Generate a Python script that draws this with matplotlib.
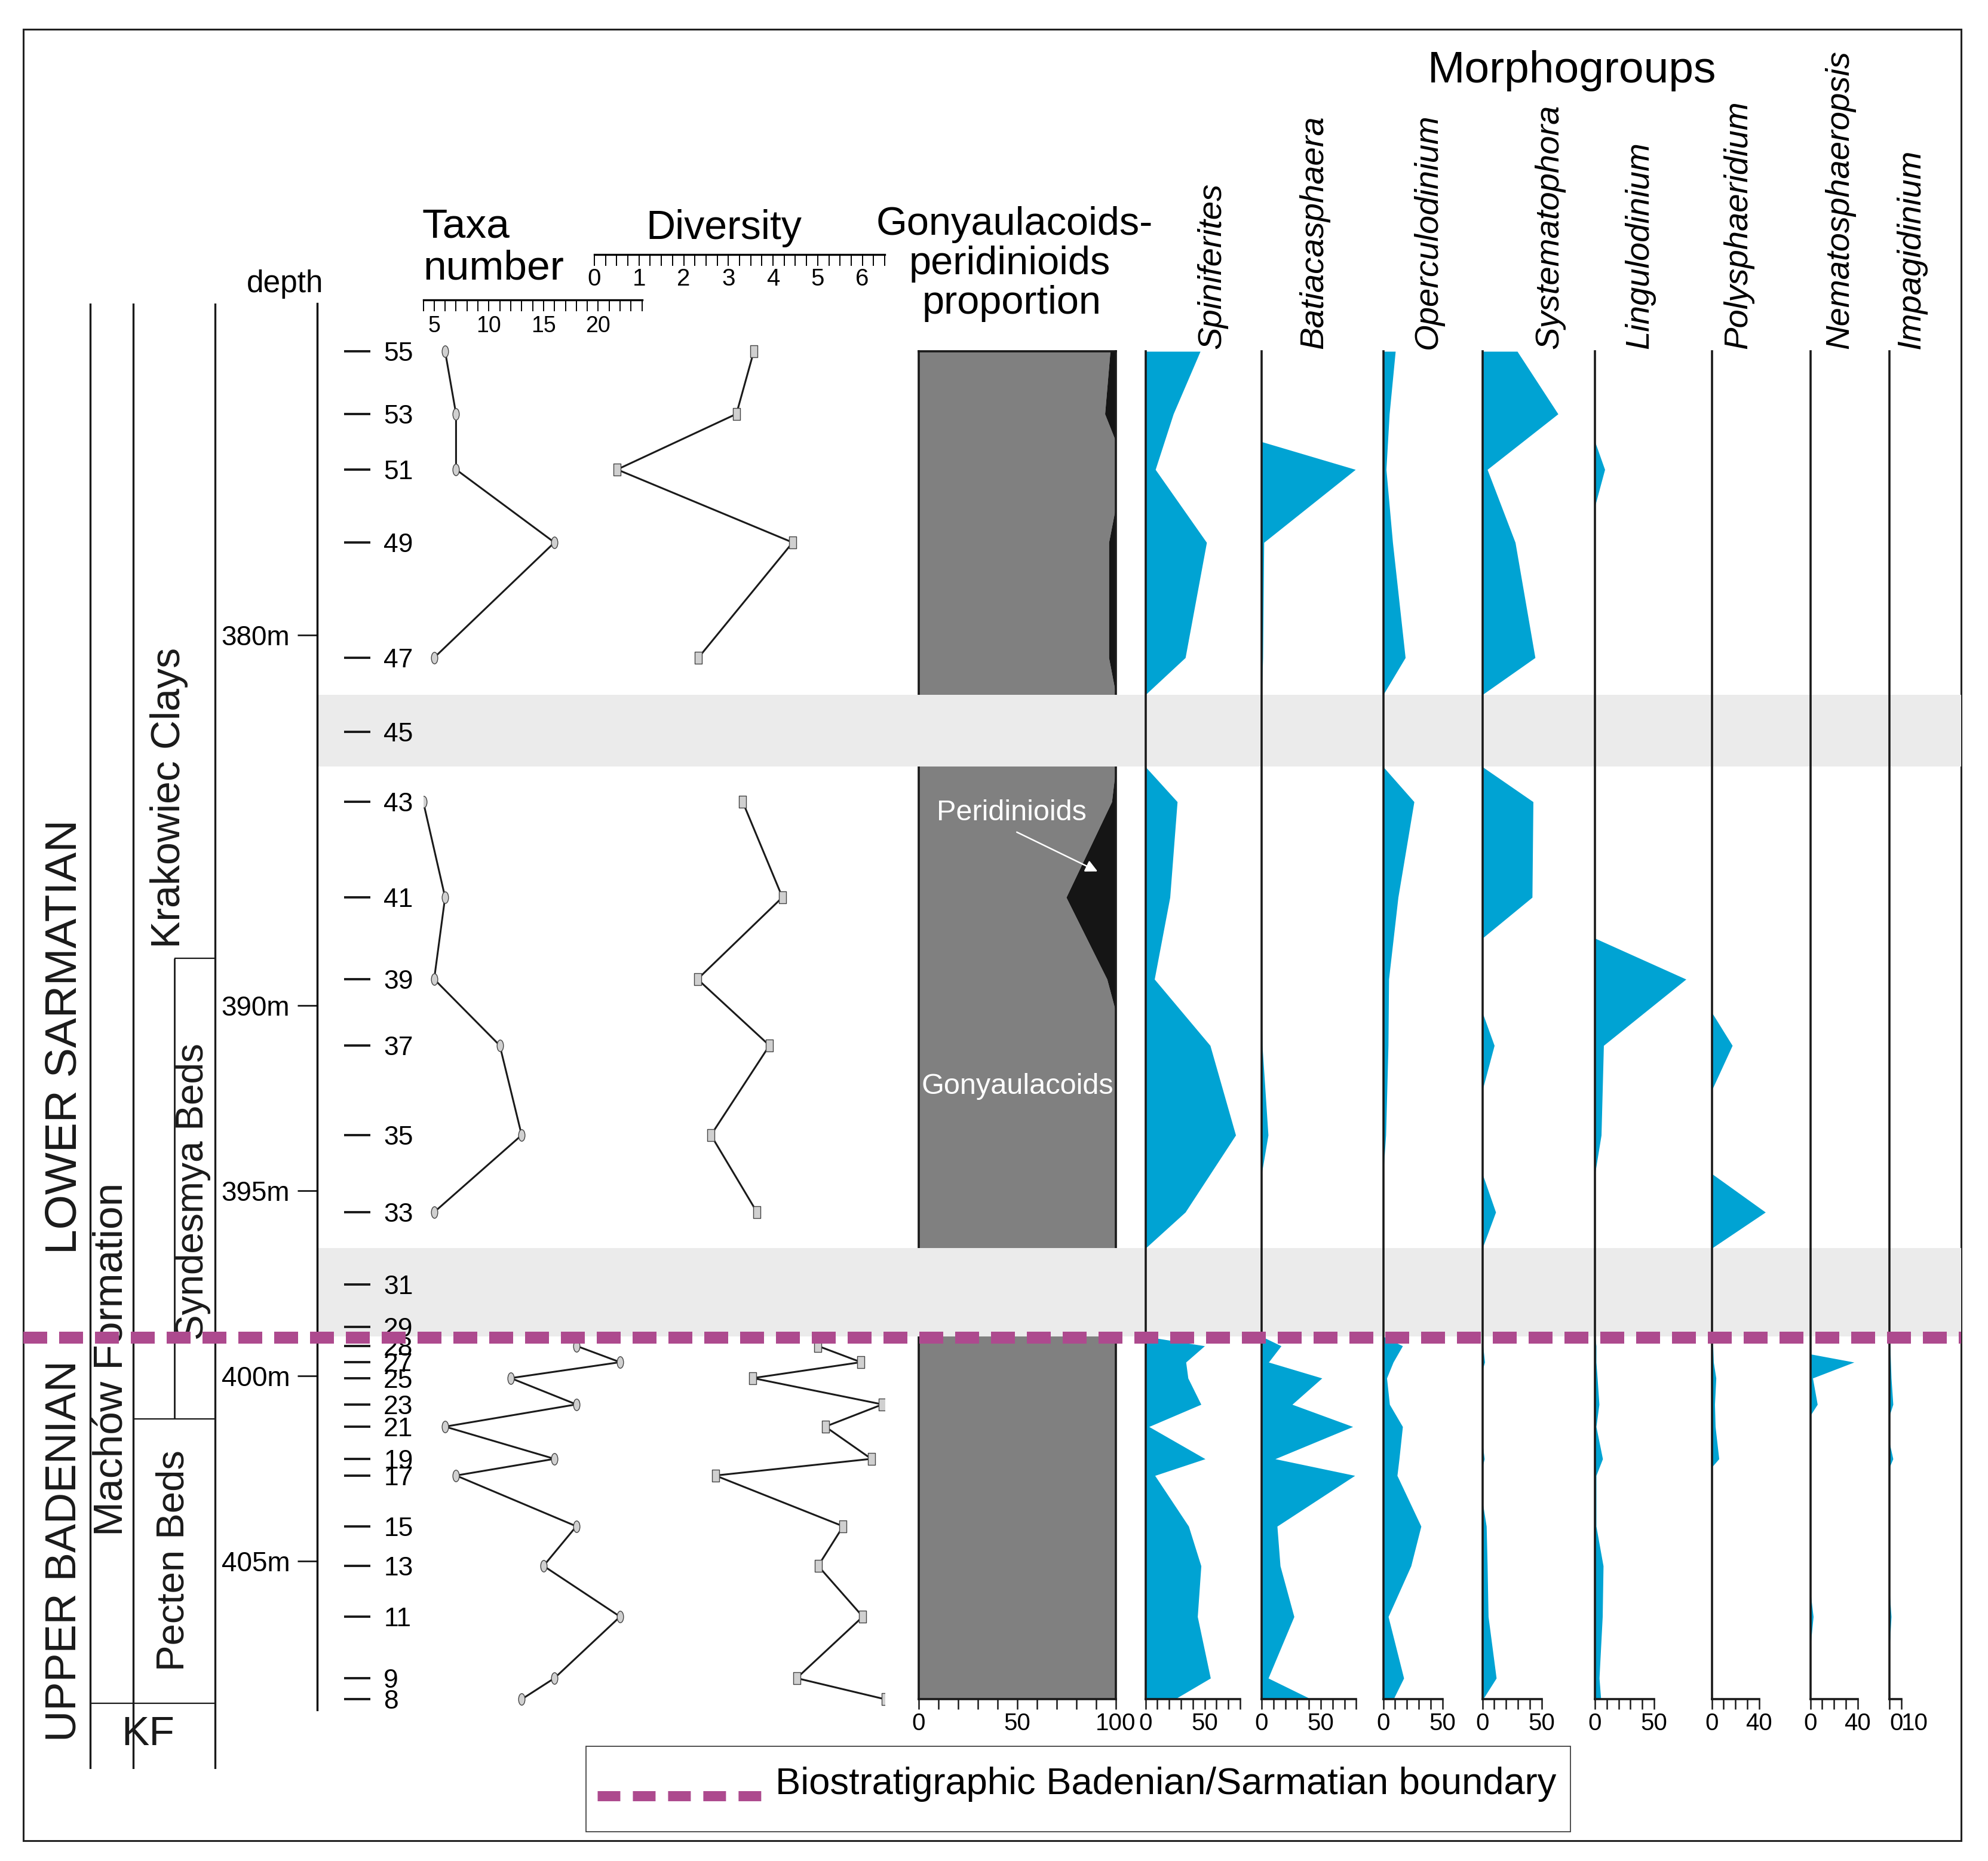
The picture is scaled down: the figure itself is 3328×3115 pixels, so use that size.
import numpy as np
import matplotlib
matplotlib.use('Agg')
import matplotlib.pyplot as plt
from matplotlib import font_manager
from matplotlib.path import Path
from matplotlib.transforms import Affine2D
from matplotlib.ticker import MultipleLocator, FixedLocator
from matplotlib.patches import Rectangle

# the original lettering is a condensed Arial; use the narrow face if present
installed = {f.name for f in font_manager.fontManager.ttflist}
if 'Liberation Sans Narrow' in installed:
    plt.rcParams['font.family'] = ['Liberation Sans Narrow', 'DejaVu Sans']
    FS = 1.1
else:
    plt.rcParams['font.family'] = ['Liberation Sans', 'DejaVu Sans']
    FS = 1.0


def fs(size):
    return size * FS


W, H, DPI = 3328, 3115, 100

# ---------------- data ----------------
samples = [55, 53, 51, 49, 47, 45, 43, 41, 39, 37, 35, 33, 31, 29, 28,
           27, 25, 23, 21, 19, 17, 15, 13, 11, 9, 8]
depth_m = [372.34, 374.03, 375.53, 377.50, 380.61, 382.61, 384.50, 387.08,
           389.29, 391.08, 393.50, 395.58, 397.53, 398.68, 399.19, 399.63,
           400.06, 400.77, 401.37, 402.24, 402.69, 404.06, 405.13, 406.50,
           408.16, 408.73]
barren = [45, 31, 29]
boundary_depth = 398.97
nan = np.nan

taxa_number = [6, 7, 7, 16, 5, nan, 4, 6, 5, 11, 13, 5, nan, nan, 18,
               22, 12, 18, 6, 16, 7, 18, 15, 22, 16, 13]
diversity = [3.57, 3.18, 0.51, 4.44, 2.33, nan, 3.32, 4.21, 2.31, 3.92, 2.61,
             3.64, nan, nan, 5.0, 5.97, 3.55, 6.45, 5.17, 6.2, 2.71, 5.57,
             5.01, 6.01, 4.53, 6.51]
peridinioids = [2.9, 5.6, 0, 3.6, 3.6, 0, 2.1, 25.2, 4.5, 0, 0, 0, 0, 0, 0,
                0, 0, 0, 0, 0, 0, 0, 0, 0, 0, 0]

spiniferites = [46.3, 23.6, 8.4, 51.7, 33.7, 0, 26.9, 20.7, 7.6, 54.7, 76.3,
                33.7, 0, 0, 50, 34.2, 36, 47, 3, 50.5, 8, 36.5, 47, 44,
                55, 24.7]
batiacasphaera = [0, 0, 79.3, 1.9, 1.0, 0, 0, 0, 0, 0.5, 5.5, 0, 0, 0, 16.5,
                  5.9, 51, 25.8, 77.1, 11.4, 78.8, 13.1, 15.7, 27.4, 5.6, 42]
operculodinium = [10.3, 5.2, 2.5, 8, 18.7, 0, 26.1, 12.6, 4.7, 4.2, 2.2, 0,
                  0, 0, 16.4, 8.5, 3.0, 5.4, 16.4, 13.5, 11.8, 32, 23.5, 4.3,
                  17.4, 8.6]
systematophora = [29.5, 64, 4.2, 27.8, 44.6, 0, 42.9, 42.1, 0, 10.1, 0, 11.3,
                  0, 0, 0.5, 2, 0, 0, 0, 1.7, 0, 3.4, 4.2, 5.0, 11.8, 0.5]
lingulodinium = [0, 0, 8.3, 0, 0, 0, 0, 0, 77, 7.3, 5.3, 0, 0, 0, 1, 1, 2,
                 3.5, 1, 6.5, 1, 1, 7, 6.3, 3.6, 5]
polysphaeridium = [0, 0, 0, 0, 0, 0, 0, 0, 0, 17.4, 0, 45.4, 0, 0, 1, 1.5,
                   3.6, 2.5, 3, 6.1, 0, 0, 0, 0, 0, 0]
nematosphaeropsis = [0, 0, 0, 0, 0, 0, 0, 0, 0, 0, 0, 0, 0, 0, 0, 37, 2, 6,
                     0, 0, 0, 0, 0, 2.5, 0, 0]
impagidinium = [0, 0, 0, 0, 0, 0, 0, 0, 0, 0, 0, 0, 0, 0, 0.5, 1, 1.5, 3, 0,
                3, 0, 0, 0, 1.5, 0, 0]

morphogroups = [
    ('Spiniferites', spiniferites, 80, [0, 50]),
    ('Batiacasphaera', batiacasphaera, 80, [0, 50]),
    ('Operculodinium', operculodinium, 50, [0, 50]),
    ('Systematophora', systematophora, 50, [0, 50]),
    ('Lingulodinium', lingulodinium, 50, [0, 50]),
    ('Polysphaeridium', polysphaeridium, 40, [0, 40]),
    ('Nematosphaeropsis', nematosphaeropsis, 40, [0, 40]),
    ('Impagidinium', impagidinium, 10, [0, 10]),
]
# unit boundaries (m)
syndesmya_top, pecten_top, kf_top = 388.73, 401.16, 408.84

# ---------------- layout (pixels) ----------------
PX_TOP, PX_BOT = 508, 2961
REF_PX, PX_PER_M = 1063, 62.0       # 380 m sits at REF_PX
d_top = 380 + (PX_TOP - REF_PX) / PX_PER_M
d_bot = 380 + (PX_BOT - REF_PX) / PX_PER_M
PCT_PX = 1.98
morph_x0 = [1917.5, 2112, 2315.5, 2481.5, 2670, 2865.5, 3030.5, 3163]
morph_label_dx = [112, 88, 75, 113, 75, 45, 50, 37]

BLUE = '#00a3d3'
GREY_BAND = '#ebebeb'
PURPLE = '#ad4a8e'
INK = '#1a1a1a'

fig = plt.figure(figsize=(W / DPI, H / DPI), dpi=DPI)
fig.patch.set_facecolor('white')


def px_axes(x0, x1, y0, y1, z=1):
    ax = fig.add_axes([x0 / W, 1 - y1 / H, (x1 - x0) / W, (y1 - y0) / H],
                      zorder=z)
    ax.patch.set_alpha(0)
    return ax


def depth_axes(x0, x1, z=2):
    ax = px_axes(x0, x1, PX_TOP, PX_BOT, z)
    ax.set_ylim(d_bot, d_top)
    for s in ax.spines.values():
        s.set_visible(False)
    ax.set_xticks([])
    ax.set_yticks([])
    return ax


def profile(depths, values):
    # zero values meet the axis half way to the neighbouring sample
    ys, xs = [], []
    vals = [0 if np.isnan(v) else v for v in values]
    for i, (d, v) in enumerate(zip(depths, vals)):
        if i > 0 and (vals[i - 1] == 0) != (v == 0):
            ys.append((depths[i - 1] + d) / 2)
            xs.append(0)
        ys.append(d)
        xs.append(v)
    return np.array(ys), np.array(xs)


def bottom_scale(ax, xmax, majors, minor_step):
    ax.spines['bottom'].set_visible(True)
    ax.spines['bottom'].set_position(('data', depth_m[-1]))
    ax.spines['bottom'].set_bounds(0, xmax)
    ax.spines['bottom'].set_linewidth(2.6)
    ax.spines['bottom'].set_color(INK)
    ax.xaxis.set_major_locator(FixedLocator(majors))
    ax.xaxis.set_minor_locator(MultipleLocator(minor_step))
    ax.tick_params(axis='x', which='both', direction='out', length=12,
                   width=1.8, color=INK, labelsize=fs(29), pad=4)


# background axes in pixel units
bg = px_axes(0, W, 0, H, z=0)
bg.set_xlim(0, W)
bg.set_ylim(H, 0)
bg.axis('off')
bg.add_patch(Rectangle((39, 49), 3244, 3032, fill=False, lw=2.2, ec='#222222'))

# barren intervals (grey bands)
band_ax = depth_axes(531, 3283, z=1)
bands = []
i = 0
while i < len(samples):
    if samples[i] in barren:
        j = i
        while j + 1 < len(samples) and samples[j + 1] in barren:
            j += 1
        top = (depth_m[i - 1] + depth_m[i]) / 2
        bot = (depth_m[j] + depth_m[j + 1]) / 2
        bands.append((top, bot))
        i = j + 1
    else:
        i += 1
for top, bot in bands:
    band_ax.axhspan(top, bot, color=GREY_BAND, lw=0)

# stratigraphic columns
st = depth_axes(39, 531, z=2)
st.set_xlim(39, 531)
for x in [151, 223, 360]:
    st.axvline(x, color=INK, lw=2.4)
st.vlines(292, syndesmya_top, pecten_top, color=INK, lw=2.0)
st.hlines(syndesmya_top, 292, 360, color=INK, lw=1.6)
st.hlines(pecten_top, 223, 360, color=INK, lw=1.6)
st.hlines(kf_top, 151, 360, color=INK, lw=1.6)
st.text(108, 390.84, 'LOWER SARMATIAN', rotation=90, ha='center',
        va='center', fontsize=fs(54), color=INK)
st.text(108, 404.73, 'UPPER BADENIAN', rotation=90, ha='center',
        va='center', fontsize=fs(52), color=INK)
st.text(187, 399.55, 'Machów Formation', rotation=90, ha='center',
        va='center', fontsize=fs(50), color=INK)
st.text(283, 384.40, 'Krakowiec Clays', rotation=90, ha='center',
        va='center', fontsize=fs(49), color=INK)
st.text(323, 395.02, 'Syndesmya Beds', rotation=90, ha='center',
        va='center', fontsize=fs(46), color=INK)
st.text(290, 404.98, 'Pecten Beds', rotation=90, ha='center',
        va='center', fontsize=fs(47), color=INK)
st.text(248, 409.68, 'KF', ha='center', va='center', fontsize=fs(50),
        color=INK)

# depth scale
dax = depth_axes(531, 532, z=3)
dax.spines['left'].set_visible(True)
dax.spines['left'].set_bounds(d_top, 409.02)
dax.spines['left'].set_linewidth(2.4)
dax.set_yticks([380, 390, 395, 400, 405])
dax.set_yticklabels(['380m', '390m', '395m', '400m', '405m'])
dax.tick_params(axis='y', direction='out', length=24, width=2, pad=9,
                labelsize=fs(33), color=INK)
bg.text(477, 489, 'depth', ha='center', va='baseline', fontsize=fs(37))

# sample numbers
sax = depth_axes(619, 620, z=3)
sax.yaxis.tick_right()
sax.set_yticks(depth_m)
sax.set_yticklabels([str(s) for s in samples])
sax.tick_params(axis='y', direction='in', length=32, width=2.8, pad=16,
                labelsize=fs(32), color=INK)

# markers
ellipse = Path.unit_circle().transformed(Affine2D().scale(0.55, 1.0))
rect = Path([(-0.3, -0.5), (0.3, -0.5), (0.3, 0.5), (-0.3, 0.5), (-0.3, -0.5)],
            [Path.MOVETO, Path.LINETO, Path.LINETO, Path.LINETO, Path.CLOSEPOLY])

# taxa number
tax = depth_axes(708.5, 1074.7, z=3)
tax.set_xlim(4, 24)
tax.plot(taxa_number, depth_m, color=INK, lw=2.2, marker=ellipse,
         markersize=14, mfc='#d0d0d0', mec='#444444', mew=1.0)
tsc = px_axes(708.5, 1074.7, 501, 502, z=3)
tsc.set_xlim(4, 24)
for k in ['left', 'right', 'top']:
    tsc.spines[k].set_visible(False)
tsc.spines['bottom'].set_linewidth(2.4)
tsc.set_yticks([])
tsc.xaxis.set_major_locator(FixedLocator([5, 10, 15, 20]))
tsc.xaxis.set_minor_locator(MultipleLocator(1))
tsc.tick_params(axis='x', which='both', direction='out', length=13.5,
                width=1.4, labelsize=fs(27), pad=5)
bg.text(707, 397, 'Taxa', ha='left', va='baseline', fontsize=fs(50))
bg.text(708, 467, 'number', ha='left', va='baseline', fontsize=fs(50))

# diversity
dvx = depth_axes(995, 1481, z=3)
dvx.set_xlim(0, 6.5)
dvx.plot(diversity, depth_m, color=INK, lw=2.2, marker=rect,
         markersize=14, mfc='#d0d0d0', mec='#444444', mew=1.0)
dsc = px_axes(995, 1481, 425, 426, z=3)
dsc.set_xlim(0, 6.5)
for k in ['left', 'right', 'top']:
    dsc.spines[k].set_visible(False)
dsc.spines['bottom'].set_linewidth(2.4)
dsc.set_yticks([])
dsc.xaxis.set_major_locator(FixedLocator(range(7)))
dsc.xaxis.set_minor_locator(MultipleLocator(0.25))
dsc.tick_params(axis='x', which='both', direction='out', length=14,
                width=1.4, labelsize=fs(29), pad=2)
bg.text(1212, 400, 'Diversity', ha='center', va='baseline', fontsize=fs(49))

# gonyaulacoids / peridinioids proportion
pax = depth_axes(1538, 1868, z=2)
pax.set_xlim(0, 100)
py, px = profile(depth_m, peridinioids)
pax.fill_betweenx(py, 0, 100 - px, color='#808080', lw=0)
pax.fill_betweenx(py, 100 - px, 100, color='#151515', lw=0)
for k in ['left', 'right']:
    pax.spines[k].set_visible(True)
    pax.spines[k].set_bounds(depth_m[-1], depth_m[0])
    pax.spines[k].set_linewidth(2.6)
    pax.spines[k].set_color(INK)
pax.spines['top'].set_visible(True)
pax.spines['top'].set_position(('data', depth_m[0]))
pax.spines['top'].set_linewidth(2.6)
pax.spines['top'].set_color(INK)
bottom_scale(pax, 100, [0, 50, 100], 10)
for top, bot in bands:
    pax.axhspan(top, bot, xmin=-0.03, xmax=1.03, color=GREY_BAND, lw=0,
                zorder=5, clip_on=False)
pax.text(47, 384.8, 'Peridinioids', color='white', ha='center',
         va='center', fontsize=fs(35))
pax.annotate('', xy=(91.5, 386.4), xytext=(49, 385.3),
             arrowprops=dict(arrowstyle='-|>', color='white', lw=1.8,
                             mutation_scale=30))
pax.text(50, 392.18, 'Gonyaulacoids', color='white', ha='center',
         va='center', fontsize=fs(35))
bg.text(1698, 393, 'Gonyaulacoids-', ha='center', va='baseline',
        fontsize=fs(48))
bg.text(1690, 459, 'peridinioids', ha='center', va='baseline',
        fontsize=fs(48))
bg.text(1694, 525, 'proportion', ha='center', va='baseline', fontsize=fs(48))

# morphogroups
for (name, vals, xmax, majors), x0, dx in zip(morphogroups, morph_x0,
                                              morph_label_dx):
    ax = depth_axes(x0, x0 + xmax * PCT_PX, z=3)
    ax.set_xlim(0, xmax)
    yy, xx = profile(depth_m, vals)
    ax.fill_betweenx(yy, 0, xx, color=BLUE, lw=0, clip_on=False)
    ax.spines['left'].set_visible(True)
    ax.spines['left'].set_bounds(depth_m[-1], depth_m[0])
    ax.spines['left'].set_linewidth(2.6)
    ax.spines['left'].set_color(INK)
    bottom_scale(ax, xmax, majors, 10)
    if xmax <= 10:
        # narrow scale: labels sit to the right of their ticks
        for lab in ax.get_xticklabels():
            lab.set_ha('left')
            lab.set_x(lab.get_position()[0])
        ax.tick_params(axis='x', pad=4)
    bg.text(x0 + dx, 584, name, rotation=90, style='italic', ha='center',
            va='bottom', fontsize=fs(40.5))
bg.text(2632, 138, 'Morphogroups', ha='center', va='baseline',
        fontsize=fs(54))

# biostratigraphic boundary
top_ax = depth_axes(39, 3283, z=10)
top_ax.set_xlim(0, 1)
top_ax.axhline(boundary_depth, color=PURPLE, lw=14.4, dashes=(2.0, 1.0),
               dash_capstyle='butt')

# legend
bg.add_patch(Rectangle((981, 2923), 1648, 143, fill=False, lw=1.2,
                       ec='#333333'))
bg.plot([1000, 1277], [3006, 3006], color=PURPLE, lw=12.2,
        dashes=(2.24, 1.24), dash_capstyle='butt')
bg.text(1298, 3003, 'Biostratigraphic Badenian/Sarmatian boundary',
        ha='left', va='baseline', fontsize=fs(45.5))

fig.savefig('out.png', dpi=DPI)
